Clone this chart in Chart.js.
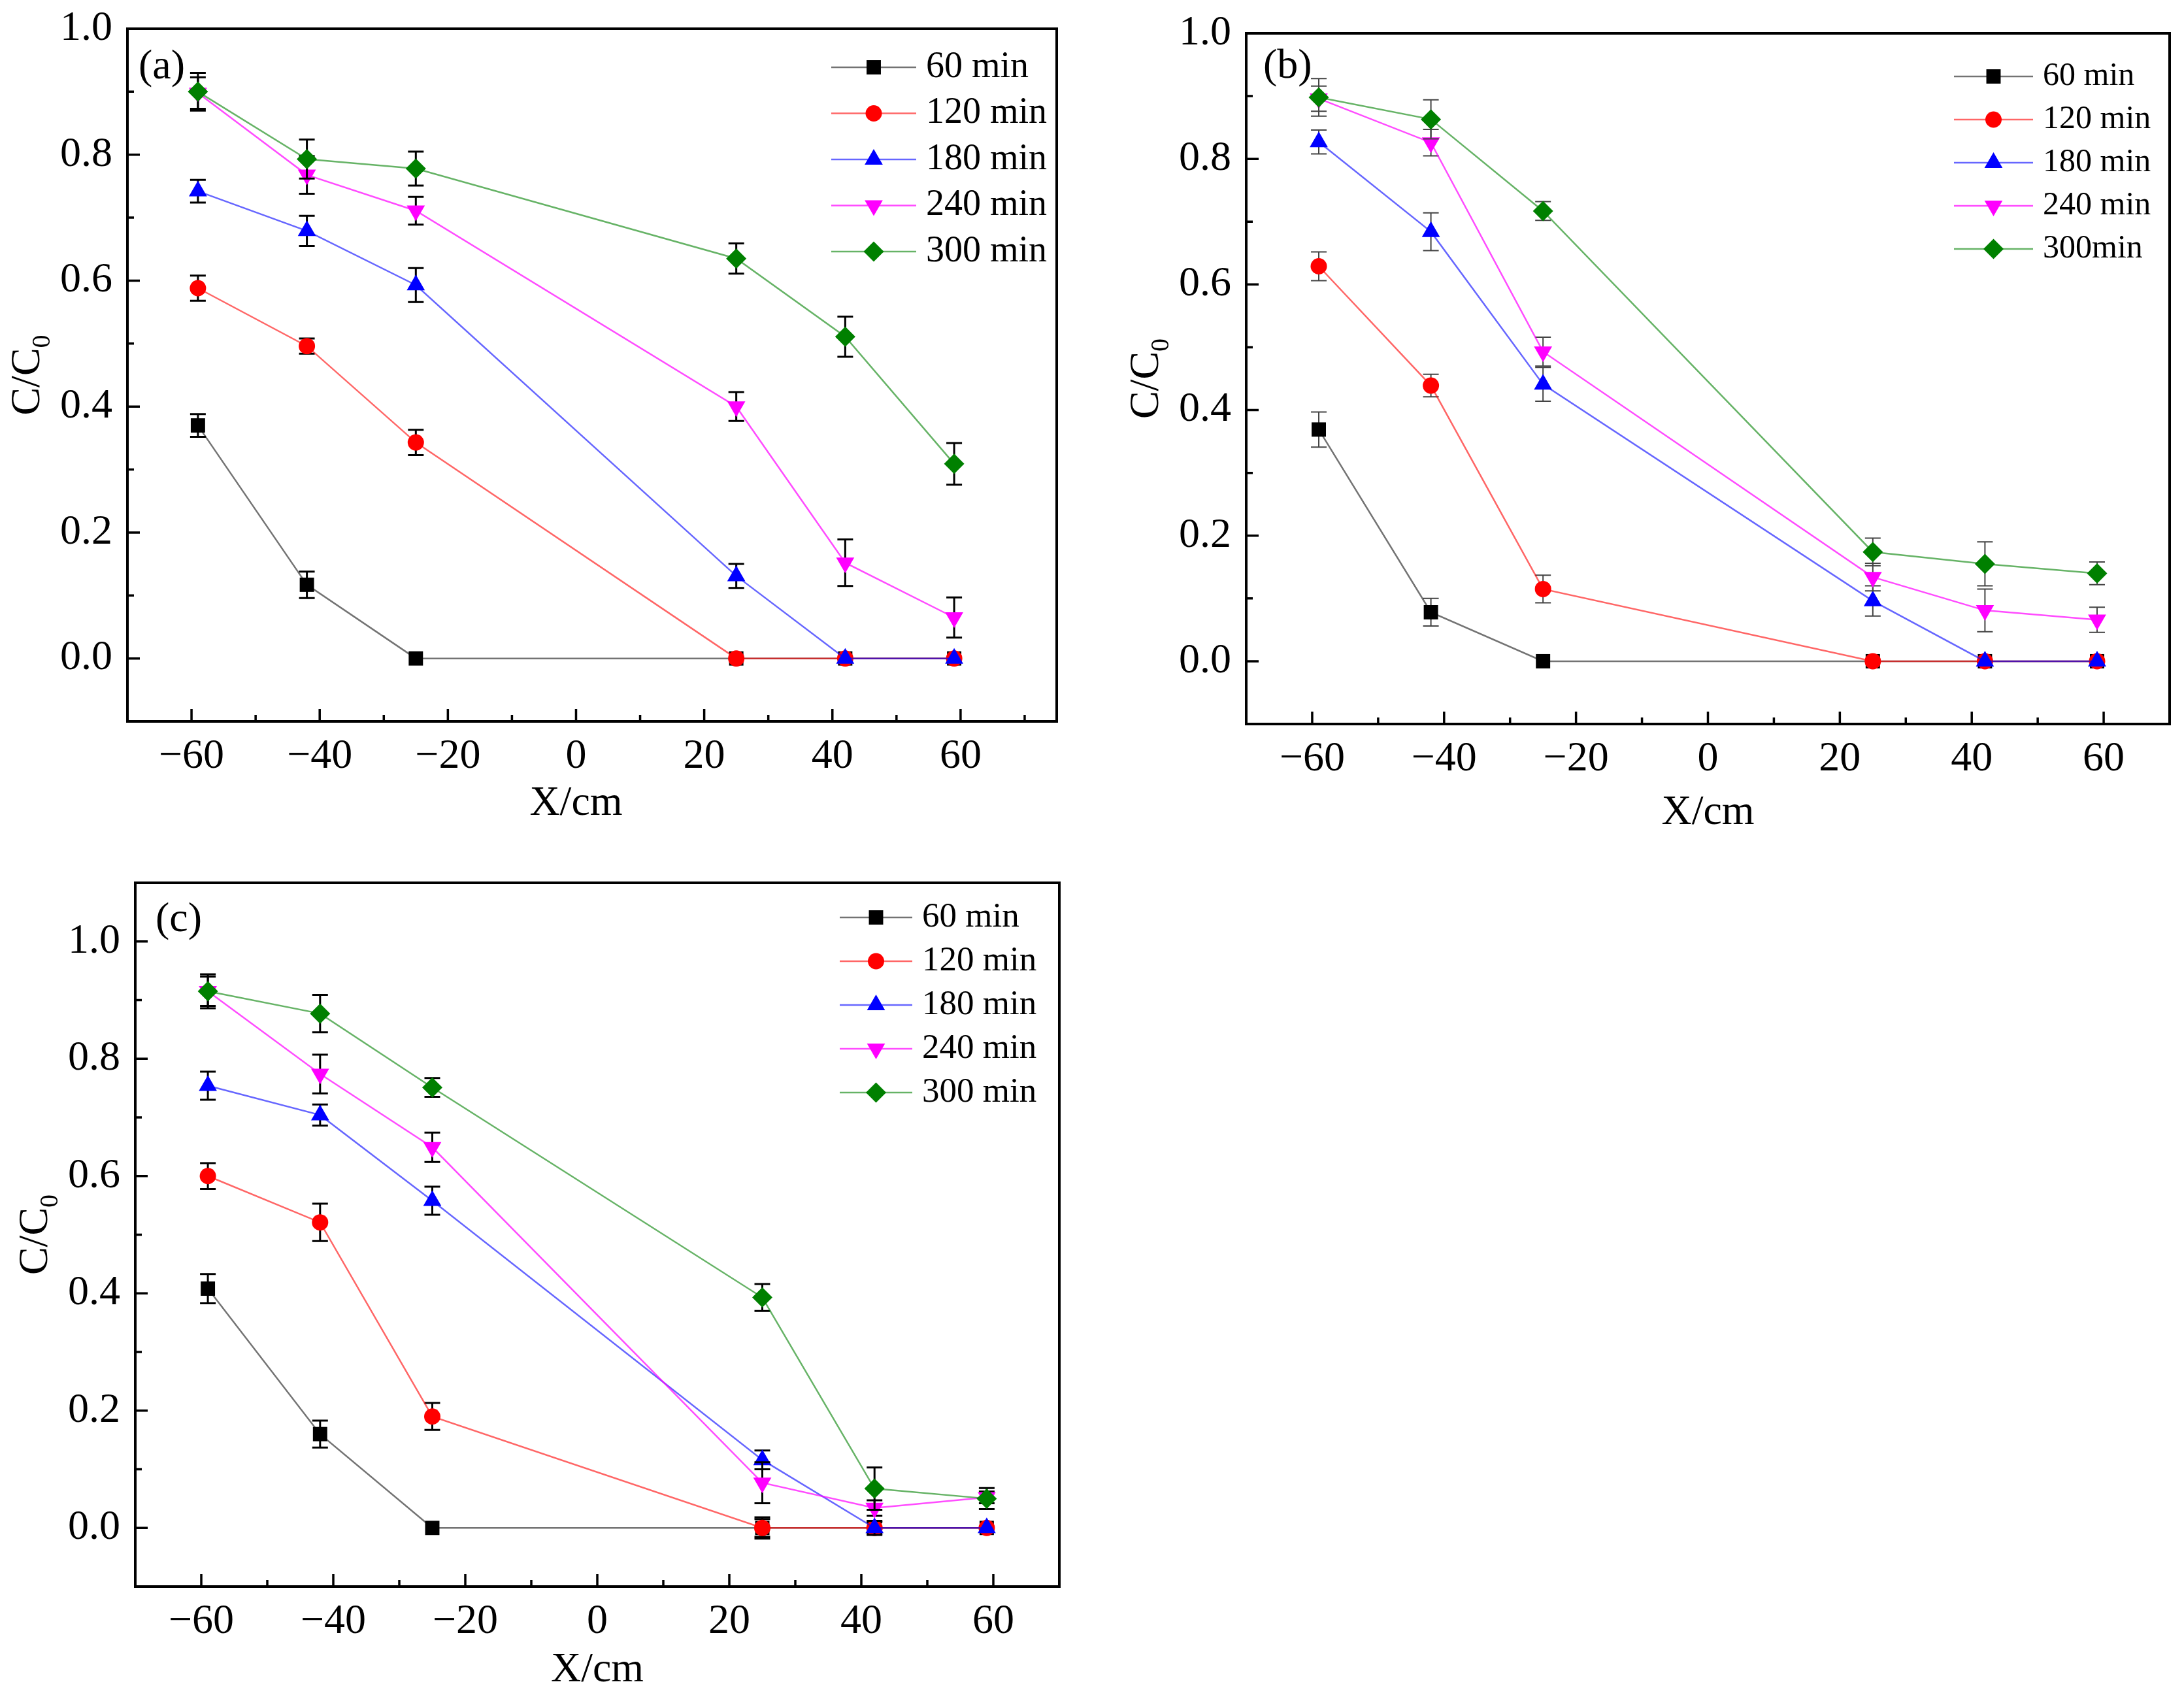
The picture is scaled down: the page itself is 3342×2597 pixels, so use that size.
<!DOCTYPE html>
<html>
<head>
<meta charset="utf-8">
<script src="https://cdn.jsdelivr.net/npm/chart.js@4.4.1/dist/chart.umd.min.js"></script>
<style>
  html, body { margin: 0; padding: 0; background: #fff; }
  body { width: 3342px; height: 2597px; position: relative; overflow: hidden; }
  canvas { position: absolute; }
</style>
</head>
<body>
<canvas id="panelA" width="1700" height="1300" style="left:0px;top:0px"></canvas>
<canvas id="panelB" width="1622" height="1300" style="left:1720px;top:0px"></canvas>
<canvas id="panelC" width="1700" height="1287" style="left:0px;top:1310px"></canvas>
<script>
// sampling positions along the column (cm)
var xPositions = [-59, -42, -25, 25, 42, 59];
var xTickValues = [-60, -40, -20, 0, 20, 40, 60];
var xMinorValues = [-70, -50, -30, -10, 10, 30, 50, 70];
var yTickValues = [0, 0.2, 0.4, 0.6, 0.8, 1.0];
var yMinorValues = [0.1, 0.3, 0.5, 0.7, 0.9];

var seriesNames = ['60 min', '120 min', '180 min', '240 min', '300 min'];
var seriesNamesB = ['60 min', '120 min', '180 min', '240 min', '300min'];

// (a)
var a60 = [0.370, 0.117, 0, 0, 0, 0];
var a120 = [0.588, 0.496, 0.343, 0, 0, 0];
var a180 = [0.742, 0.679, 0.593, 0.131, 0, 0];
var a240 = [0.898, 0.768, 0.711, 0.400, 0.152, 0.065];
var a300 = [0.900, 0.793, 0.778, 0.635, 0.511, 0.309];
var a60Err = [0.018, 0.021, 0, 0, 0, 0];
var a120Err = [0.020, 0.012, 0.020, 0, 0, 0];
var a180Err = [0.018, 0.024, 0.027, 0.019, 0, 0];
var a240Err = [0.025, 0.030, 0.022, 0.023, 0.037, 0.032];
var a300Err = [0.030, 0.031, 0.027, 0.024, 0.032, 0.033];

// (b)
var b60 = [0.369, 0.078, 0, 0, 0, 0];
var b120 = [0.629, 0.439, 0.115, 0, 0, 0];
var b180 = [0.827, 0.684, 0.441, 0.096, 0, 0];
var b240 = [0.896, 0.826, 0.493, 0.134, 0.081, 0.066];
var b300 = [0.898, 0.863, 0.717, 0.174, 0.155, 0.140];
var b60Err = [0.028, 0.022, 0, 0, 0, 0];
var b120Err = [0.023, 0.018, 0.022, 0, 0, 0];
var b180Err = [0.019, 0.030, 0.027, 0.024, 0, 0];
var b240Err = [0.020, 0.021, 0.023, 0.022, 0.034, 0.020];
var b300Err = [0.030, 0.031, 0.015, 0.022, 0.035, 0.018];

// (c)
var c60 = [0.408, 0.160, 0, 0, 0, 0];
var c120 = [0.600, 0.521, 0.190, 0, 0, 0];
var c180 = [0.754, 0.704, 0.558, 0.116, 0, 0];
var c240 = [0.915, 0.774, 0.649, 0.077, 0.034, 0.052];
var c300 = [0.915, 0.877, 0.751, 0.393, 0.067, 0.050];
var c60Err = [0.025, 0.023, 0, 0.018, 0.010, 0];
var c120Err = [0.022, 0.032, 0.023, 0.015, 0, 0];
var c180Err = [0.024, 0.018, 0.024, 0.016, 0.012, 0];
var c240Err = [0.025, 0.033, 0.025, 0.035, 0.013, 0.010];
var c300Err = [0.029, 0.032, 0.016, 0.023, 0.036, 0.018];

var seriesColors = ['#000000', '#ff0000', '#0000ff', '#ff00ff', '#008000'];
var lineColors = ['rgba(0,0,0,0.55)', 'rgba(255,0,0,0.6)', 'rgba(0,0,255,0.6)', 'rgba(255,0,255,0.7)', 'rgba(0,128,0,0.6)'];
var markerStyles = ['rect', 'circle', 'triangle', 'triangle', 'rectRot'];
var markerRotation = [0, 0, 0, 180, 0];
var markerRadius = [15.5, 12.5, 16, 16, 15.5];

var FONT = '"Liberation Serif", "Times New Roman", serif';

function minusSign(v) {
    return String(v).replace('-', '\u2212');
}

function drawPanel(id, cfg) {
    var datasets = cfg.values.map(function (vals, i) {
        return {
            label: cfg.names[i],
            data: xPositions.map(function (x, k) { return { x: x, y: vals[k] }; }),
            errors: cfg.errors[i],
            borderColor: lineColors[i],
            borderWidth: 2.5,
            backgroundColor: seriesColors[i],
            pointBackgroundColor: seriesColors[i],
            pointBorderColor: seriesColors[i],
            pointBorderWidth: 0,
            pointStyle: markerStyles[i],
            pointRotation: markerRotation[i],
            pointRadius: markerRadius[i],
            tension: 0,
            order: 4 - i,
            clip: false
        };
    });

    var decor = {
        id: 'decor' + id,
        beforeDatasetDraw: function (chart, args) {
            var ds = chart.data.datasets[args.index];
            var ctx = chart.ctx, sx = chart.scales.x, sy = chart.scales.y;
            ctx.save();
            ctx.strokeStyle = cfg.errColor;
            ctx.lineWidth = cfg.errWidth;
            ctx.beginPath();
            ds.data.forEach(function (p, k) {
                var e = ds.errors[k];
                if (!e) return;
                var px = sx.getPixelForValue(p.x);
                var top = sy.getPixelForValue(p.y + e), bot = sy.getPixelForValue(p.y - e);
                ctx.moveTo(px, top); ctx.lineTo(px, bot);
                ctx.moveTo(px - 12, top); ctx.lineTo(px + 12, top);
                ctx.moveTo(px - 12, bot); ctx.lineTo(px + 12, bot);
            });
            ctx.stroke();
            ctx.restore();
        },
        afterDraw: function (chart) {
            var ctx = chart.ctx, a = chart.chartArea, sx = chart.scales.x, sy = chart.scales.y;
            ctx.save();
            // frame
            ctx.strokeStyle = '#000';
            ctx.lineWidth = 4;
            ctx.strokeRect(a.left, a.top, a.right - a.left, a.bottom - a.top);
            // inward ticks on bottom and left
            ctx.lineWidth = 3.5;
            ctx.beginPath();
            xTickValues.forEach(function (v) {
                var px = sx.getPixelForValue(v);
                ctx.moveTo(px, a.bottom); ctx.lineTo(px, a.bottom - 19);
            });
            xMinorValues.forEach(function (v) {
                if (v <= sx.min || v >= sx.max) return;
                var px = sx.getPixelForValue(v);
                ctx.moveTo(px, a.bottom); ctx.lineTo(px, a.bottom - 10);
            });
            yTickValues.forEach(function (v) {
                var py = sy.getPixelForValue(v);
                ctx.moveTo(a.left, py); ctx.lineTo(a.left + 19, py);
            });
            yMinorValues.forEach(function (v) {
                var py = sy.getPixelForValue(v);
                ctx.moveTo(a.left, py); ctx.lineTo(a.left + 10, py);
            });
            ctx.stroke();

            // panel tag
            ctx.fillStyle = '#000';
            ctx.font = '64px ' + FONT;
            ctx.textAlign = 'left';
            ctx.textBaseline = 'middle';
            ctx.fillText(cfg.tag, a.left + cfg.tagDx, a.top + cfg.tagDy);

            // x title
            ctx.textAlign = 'center';
            ctx.fillText('X/cm', sx.getPixelForValue(0), a.bottom + cfg.xTitleDy);

            // y title C/C0 with subscript
            ctx.save();
            ctx.translate(a.left - 152, (a.top + a.bottom) / 2);
            ctx.rotate(-Math.PI / 2);
            ctx.font = '64px ' + FONT;
            var mainW = ctx.measureText('C/C').width;
            ctx.font = '40px ' + FONT;
            var subW = ctx.measureText('0').width;
            var x0 = -(mainW + subW) / 2;
            ctx.textAlign = 'left';
            ctx.font = '64px ' + FONT;
            ctx.fillText('C/C', x0, 0);
            ctx.font = '40px ' + FONT;
            ctx.fillText('0', x0 + mainW, 22);
            ctx.restore();

            // legend: line + marker + text
            cfg.names.forEach(function (name, i) {
                var y = a.top + cfg.legendTop + i * cfg.legendGap;
                var lx = a.right - cfg.legendRight;
                ctx.strokeStyle = lineColors[i];
                ctx.lineWidth = 2.5;
                ctx.beginPath();
                ctx.moveTo(lx, y); ctx.lineTo(lx + cfg.legendLine, y);
                ctx.stroke();
                ctx.fillStyle = seriesColors[i];
                ctx.strokeStyle = seriesColors[i];
                Chart.helpers.drawPoint(ctx, {
                    pointStyle: markerStyles[i],
                    rotation: markerRotation[i],
                    radius: markerRadius[i],
                    borderWidth: 0
                }, lx + cfg.legendLine / 2, y);
                ctx.fillStyle = '#000';
                ctx.font = cfg.legendSize + 'px ' + FONT;
                ctx.textAlign = 'left';
                ctx.textBaseline = 'middle';
                ctx.fillText(name, lx + cfg.legendLine + 15, y);
            });
            ctx.restore();
        }
    };

    return new Chart(document.getElementById(id).getContext('2d'), {
        type: 'line',
        data: { datasets: datasets },
        options: {
            responsive: false,
            animation: false,
            devicePixelRatio: 1,
            events: [],
            layout: { padding: { left: 0, top: cfg.padTop, right: cfg.padRight, bottom: 0 } },
            plugins: { legend: { display: false }, tooltip: { enabled: false } },
            scales: {
                x: {
                    type: 'linear',
                    min: cfg.xMin,
                    max: cfg.xMax,
                    afterBuildTicks: function (s) {
                        s.ticks = xTickValues.map(function (v) { return { value: v }; });
                    },
                    afterFit: function (s) {
                        s.height = cfg.xAxisHeight;
                        s.paddingLeft = 0; s.paddingRight = 0;
                    },
                    grid: { display: false, drawTicks: false },
                    border: { display: false },
                    ticks: {
                        color: '#000',
                        font: { family: FONT, size: 64 },
                        padding: 16,
                        maxRotation: 0,
                        autoSkip: false,
                        callback: function (v) { return minusSign(v); }
                    }
                },
                y: {
                    type: 'linear',
                    min: -0.1,
                    max: cfg.yMax,
                    afterBuildTicks: function (s) {
                        s.ticks = yTickValues.map(function (v) { return { value: v }; });
                    },
                    afterFit: function (s) {
                        s.width = cfg.yAxisWidth;
                        s.paddingTop = 0; s.paddingBottom = 0;
                    },
                    grid: { display: false, drawTicks: false },
                    border: { display: false },
                    ticks: {
                        color: '#000',
                        font: { family: FONT, size: 64 },
                        padding: 23,
                        autoSkip: false,
                        callback: function (v) { return Number(v).toFixed(1); }
                    }
                }
            }
        },
        plugins: [decor]
    });
}

drawPanel('panelA', {
    values: [a60, a120, a180, a240, a300],
    errors: [a60Err, a120Err, a180Err, a240Err, a300Err],
    names: seriesNames,
    xMin: -70, xMax: 75, yMax: 1.0,
    padTop: 44, padRight: 83, yAxisWidth: 195, xAxisHeight: 196,
    errColor: '#000', errWidth: 3,
    tag: '(a)', tagDx: 17, tagDy: 59, xTitleDy: 126,
    legendTop: 59, legendGap: 70.5, legendRight: 345, legendLine: 130, legendSize: 56
});

drawPanel('panelB', {
    values: [b60, b120, b180, b240, b300],
    errors: [b60Err, b120Err, b180Err, b240Err, b300Err],
    names: seriesNamesB,
    xMin: -70, xMax: 70, yMax: 1.0,
    padTop: 51, padRight: 22, yAxisWidth: 187, xAxisHeight: 192,
    errColor: '#444', errWidth: 2,
    tag: '(b)', tagDx: 26, tagDy: 51, xTitleDy: 136,
    legendTop: 66, legendGap: 66, legendRight: 330, legendLine: 121, legendSize: 50
});

drawPanel('panelC', {
    values: [c60, c120, c180, c240, c300],
    errors: [c60Err, c120Err, c180Err, c240Err, c300Err],
    names: seriesNames,
    xMin: -70, xMax: 70, yMax: 1.1,
    padTop: 41, padRight: 79, yAxisWidth: 207, xAxisHeight: 169,
    errColor: '#000', errWidth: 3,
    tag: '(c)', tagDx: 31, tagDy: 57, xTitleDy: 128,
    legendTop: 53, legendGap: 67, legendRight: 336, legendLine: 111, legendSize: 53
});
</script>
</body>
</html>
